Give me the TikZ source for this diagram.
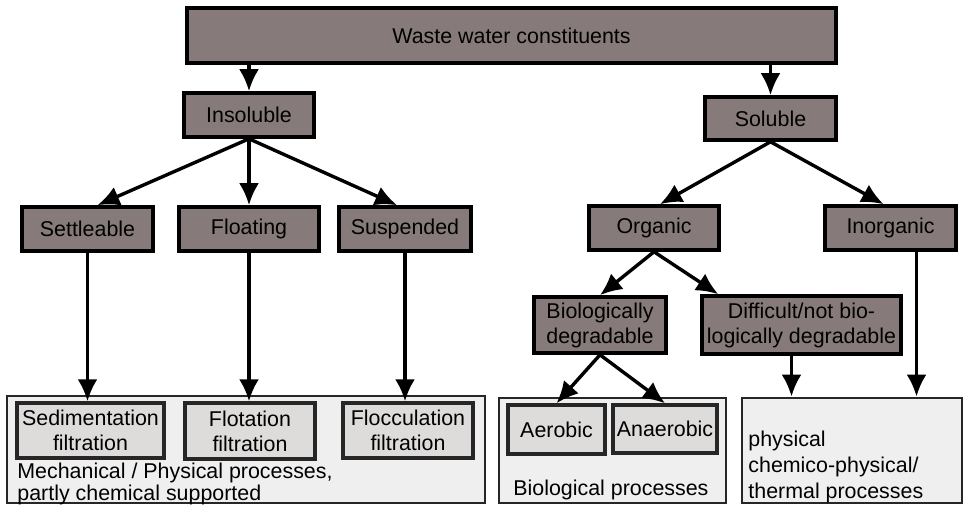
\documentclass[tikz,border=0pt]{standalone}
\usepackage{fontspec}
\setmainfont{Liberation Sans}
\usepackage{xcolor}
\definecolor{wwdark}{RGB}{134,123,122}
\definecolor{wwlight}{RGB}{222,219,219}
\definecolor{wwpale}{RGB}{239,239,239}
\usetikzlibrary{arrows.meta,calc}

\begin{document}
\begin{tikzpicture}[x=0.5pt,y=-0.5pt,font=\fontsize{10.7}{12.5}\selectfont,
  darkbox/.style={draw=black,line width=1.8pt,fill=wwdark,inner sep=0pt,align=center},
  lightbox/.style={draw=black!85,line width=1.7pt,fill=wwlight,inner sep=0pt,align=center},
  procbox/.style={draw=black!85,line width=1.4pt,fill=wwpale,inner sep=0pt},
  arr/.style={-{Latex[length=11pt,width=10pt]},line width=1.7pt},
  txt/.style={inner sep=0pt,align=left}]
  \useasboundingbox (0,0) rectangle (967,506);
  % process boxes at the bottom
  \node[procbox,minimum width=239pt,minimum height=53.5pt] (mech) at (246,449.5) {};
  \node[procbox,minimum width=113.5pt,minimum height=52.5pt] (bioproc) at (612.5,450.5) {};
  \node[procbox,minimum width=110pt,minimum height=52.5pt] (phys) at (852,450.5) {};
  % constituents
  \node[darkbox,minimum width=324.5pt,minimum height=27.5pt] (top) at (511.5,35.5) {Waste water constituents};
  \node[darkbox,minimum width=65pt,minimum height=22pt] (insol) at (249,115) {Insoluble};
  \node[darkbox,minimum width=65.5pt,minimum height=21.5pt] (sol) at (770.5,118.5) {Soluble};
  \node[darkbox,minimum width=65.5pt,minimum height=22pt] (settle) at (87.5,229) {Settleable};
  \node[darkbox,minimum width=70pt,minimum height=22pt] (float) at (249,229) {Floating};
  \node[darkbox,minimum width=66pt,minimum height=22pt] (susp) at (405,229) {Suspended};
  \node[darkbox,minimum width=65pt,minimum height=22pt] (organic) at (654,228) {Organic};
  \node[darkbox,minimum width=65.5pt,minimum height=22pt] (inorg) at (890.5,228) {Inorganic};
  \node[darkbox,minimum width=66pt,minimum height=28pt] (bio) at (600,325) {Biologically\\degradable};
  \node[darkbox,minimum width=99.5pt,minimum height=29pt] (diff) at (801.5,325) {Difficult/not bio-\\logically degradable};
  % treatments
  \node[lightbox,minimum width=73.5pt,minimum height=27.5pt] (sed) at (90.5,430.5) {Sedimentation\\filtration};
  \node[lightbox,minimum width=65pt,minimum height=28pt] (flot) at (250,431) {Flotation\\filtration};
  \node[lightbox,minimum width=65pt,minimum height=27.5pt] (flocc) at (408,430.5) {Flocculation\\filtration};
  \node[lightbox,minimum width=48.5pt,minimum height=24.5pt] (aer) at (556.5,429.5) {Aerobic};
  \node[lightbox,minimum width=52pt,minimum height=24pt] (anaer) at (665,429) {Anaerobic};
  \node[txt,anchor=north west,font=\fontsize{10.7}{8.6}\selectfont] (mechtxt) at (17,463) {Mechanical / Physical processes,\\partly chemical supported};
  \node[txt,anchor=base west] (biotxt) at (513,495) {Biological processes};
  \node[txt,anchor=north west,font=\fontsize{10.7}{13}\selectfont] (phystxt) at (748,431) {physical\\chemico-physical/\\thermal processes};
  % arrows
  \draw[arr] (top.south -| insol.north) -- (insol.north);
  \draw[arr] (top.south -| sol.north) -- (sol.north);
  \draw[arr] (insol.south) -- ($(settle.north)+(10,0)$);
  \draw[arr] (insol.south) -- (float.north);
  \draw[arr] (insol.south) -- ($(susp.north)+(-8,0)$);
  \foreach \a/\b in {settle/sed, float/flot, susp/flocc}
    \draw[arr] (\a.south) -- (\a.south |- \b.north);
  \draw[arr] (sol.south) -- ($(organic.north)+(6,0)$);
  \draw[arr] (sol.south) -- ($(inorg.north)+(-7,0)$);
  \draw[arr] (organic.south) -- (bio.north);
  \draw[arr] (organic.south) -- ($(diff.north west)+(18,0)$);
  \draw[arr] (bio.south) -- (aer.north);
  \draw[arr] (bio.south) -- (anaer.north);
  \coordinate (d1) at ($(diff.south)+(-10,0)$);
  \coordinate (i1) at ($(inorg.south)+(26,0)$);
  \draw[arr] (d1) -- (d1 |- phys.north);
  \draw[arr] (i1) -- (i1 |- phys.north);
\end{tikzpicture}
\end{document}
